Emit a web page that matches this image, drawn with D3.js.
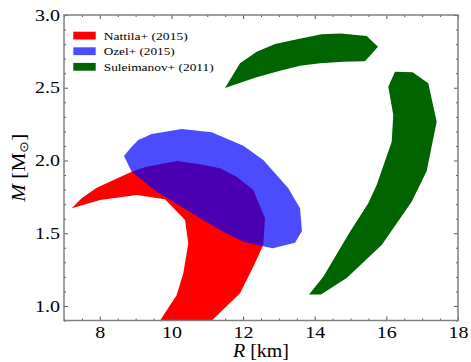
<!DOCTYPE html>
<html>
<head>
<meta charset="utf-8">
<script src="https://cdn.jsdelivr.net/npm/d3@7"></script>
<style>
  html, body { margin: 0; padding: 0; background: #fff; }
  svg { display: block; font-family: "Liberation Serif", serif; }
</style>
</head>
<body>
<svg id="chart" width="471" height="362"></svg>
<script>
// Mass-radius constraint regions, [R (km), M (Msun)] polygon vertices
const nattila = [
  [7.215, 1.671], [7.494, 1.740], [7.913, 1.813], [8.890, 1.923], [9.309, 1.957],
  [10.146, 1.996], [10.797, 1.974], [11.355, 1.946], [11.821, 1.888], [12.285, 1.797],
  [12.612, 1.603], [12.564, 1.419], [12.285, 1.270], [11.914, 1.087], [10.92, 0.85],
  [9.55, 0.85], [10.146, 1.075], [10.331, 1.224], [10.470, 1.431], [10.378, 1.591],
  [9.820, 1.733], [9.030, 1.763], [8.005, 1.728]
];
const ozel = [
  [8.675, 2.031], [8.890, 2.095], [9.074, 2.141], [9.448, 2.182], [10.286, 2.216],
  [11.124, 2.194], [12.006, 2.102], [12.564, 2.003], [13.262, 1.809], [13.589, 1.671],
  [13.645, 1.515], [13.449, 1.435], [12.827, 1.396], [12.528, 1.412], [12.006, 1.442],
  [11.355, 1.522], [10.378, 1.666], [9.588, 1.785], [8.890, 1.923]
];
const suleimanovUpper = [
  [11.495, 2.498], [11.914, 2.668], [12.380, 2.748], [12.891, 2.801], [13.541, 2.835],
  [14.195, 2.868], [14.733, 2.873], [15.451, 2.856], [15.766, 2.782], [15.403, 2.682],
  [14.798, 2.679], [14.147, 2.668], [13.589, 2.651], [13.003, 2.615], [12.332, 2.569]
];
const suleimanovLower = [
  [16.241, 2.610], [16.735, 2.606], [17.171, 2.530], [17.405, 2.267], [17.126, 1.928],
  [16.707, 1.717], [15.870, 1.419], [14.892, 1.192], [14.175, 1.079], [13.840, 1.079],
  [14.239, 1.201], [14.985, 1.510], [15.495, 1.706], [15.730, 1.831], [16.149, 2.129],
  [16.193, 2.313], [16.054, 2.507]
];

const seriesNames = ["Nattila+ (2015)", "Ozel+ (2015)", "Suleimanov+ (2011)"];
const seriesColors = ["#ff0000", "#0000ff", "#006400"];
const seriesAlpha = [1, 0.7, 1];

const xTicks = [8, 10, 12, 14, 16, 18];
const yTicks = [1.0, 1.5, 2.0, 2.5, 3.0];
const xDomain = [7, 18];
const yDomain = [0.9, 3.0];

const svg = d3.select("#chart");
const m = { left: 64, right: 13, top: 15, bottom: 41.5 };
const W = 471, H = 362;
const x = d3.scaleLinear().domain(xDomain).range([m.left, W - m.right]);
const y = d3.scaleLinear().domain(yDomain).range([H - m.bottom, m.top]);

// widen a text run to a target advance (serif face here is narrower than the design face)
function widen(sel, factor) {
  sel.each(function () {
    const w = this.getComputedTextLength();
    d3.select(this).attr("textLength", w * factor).attr("lengthAdjust", "spacingAndGlyphs");
  });
}
function fitTo(sel, width) {
  sel.attr("textLength", width).attr("lengthAdjust", "spacingAndGlyphs");
}

svg.append("defs").append("clipPath").attr("id", "plotclip")
  .append("rect")
  .attr("x", x(xDomain[0])).attr("y", y(yDomain[1]))
  .attr("width", x(xDomain[1]) - x(xDomain[0]))
  .attr("height", y(yDomain[0]) - y(yDomain[1]));

const line = d3.line().x(d => x(d[0])).y(d => y(d[1])).curve(d3.curveLinearClosed);
const plot = svg.append("g").attr("clip-path", "url(#plotclip)");

const regions = [
  { data: [nattila], i: 0 },
  { data: [ozel], i: 1 },
  { data: [suleimanovUpper, suleimanovLower], i: 2 }
];
// draw order: green, red, then translucent blue on top
[regions[2], regions[0], regions[1]].forEach(r => {
  r.data.forEach(poly => {
    plot.append("path")
      .attr("d", line(poly))
      .attr("fill", seriesColors[r.i])
      .attr("fill-opacity", seriesAlpha[r.i])
      .attr("stroke", "none");
  });
});

// axes: inward ticks on all four sides
const axisColor = "#808080";
const major = 4, minor = 2;
const xMinor = d3.range(7, 18.001, 0.5).filter(v => !xTicks.includes(v));
const yMinor = d3.range(0.9, 3.0001, 0.1).map(v => +v.toFixed(2)).filter(v => !yTicks.some(t => Math.abs(t - v) < 1e-6));

function styleAxis(g) {
  g.attr("font-family", null);
  g.select(".domain").remove();
  g.selectAll(".tick line").attr("stroke", "#555").attr("stroke-width", 1);
}
function styleLabels(g) {
  g.selectAll("text").attr("font-size", 16).attr("font-family", "Liberation Serif").attr("fill", "#000")
    .call(widen, 1.25);
}

svg.append("g").attr("transform", `translate(0,${y(yDomain[0])})`)
  .call(d3.axisBottom(x).tickValues(xTicks).tickSizeInner(-major).tickSizeOuter(0).tickPadding(6).tickFormat(d3.format("d")))
  .call(styleAxis).call(styleLabels);
svg.append("g").attr("transform", `translate(0,${y(yDomain[0])})`)
  .call(d3.axisBottom(x).tickValues(xMinor).tickSizeInner(-minor).tickSizeOuter(0).tickFormat(""))
  .call(styleAxis);
svg.append("g").attr("transform", `translate(0,${y(yDomain[1])})`)
  .call(d3.axisTop(x).tickValues(xTicks).tickSizeInner(-major).tickSizeOuter(0).tickFormat(""))
  .call(styleAxis);
svg.append("g").attr("transform", `translate(0,${y(yDomain[1])})`)
  .call(d3.axisTop(x).tickValues(xMinor).tickSizeInner(-minor).tickSizeOuter(0).tickFormat(""))
  .call(styleAxis);

svg.append("g").attr("transform", `translate(${x(xDomain[0])},0)`)
  .call(d3.axisLeft(y).tickValues(yTicks).tickSizeInner(-major).tickSizeOuter(0).tickPadding(4).tickFormat(d3.format(".1f")))
  .call(styleAxis).call(styleLabels);
svg.append("g").attr("transform", `translate(${x(xDomain[0])},0)`)
  .call(d3.axisLeft(y).tickValues(yMinor).tickSizeInner(-minor).tickSizeOuter(0).tickFormat(""))
  .call(styleAxis);
svg.append("g").attr("transform", `translate(${x(xDomain[1])},0)`)
  .call(d3.axisRight(y).tickValues(yTicks).tickSizeInner(-major).tickSizeOuter(0).tickFormat(""))
  .call(styleAxis);
svg.append("g").attr("transform", `translate(${x(xDomain[1])},0)`)
  .call(d3.axisRight(y).tickValues(yMinor).tickSizeInner(-minor).tickSizeOuter(0).tickFormat(""))
  .call(styleAxis);

// frame
svg.append("rect")
  .attr("x", x(xDomain[0])).attr("y", y(yDomain[1]))
  .attr("width", x(xDomain[1]) - x(xDomain[0]))
  .attr("height", y(yDomain[0]) - y(yDomain[1]))
  .attr("fill", "none").attr("stroke", axisColor).attr("stroke-width", 1.5);

// axis labels
const xl = svg.append("text")
  .attr("x", (x(xDomain[0]) + x(xDomain[1])) / 2).attr("y", 357)
  .attr("text-anchor", "middle").attr("font-size", 18).attr("fill", "#000");
xl.append("tspan").attr("font-style", "italic").text("R");
xl.append("tspan").text(" [km]");
fitTo(xl, 56);

const yl = svg.append("text")
  .attr("transform", `translate(25,${(y(yDomain[0]) + y(yDomain[1])) / 2}) rotate(-90)`)
  .attr("text-anchor", "middle").attr("font-size", 18).attr("fill", "#000");
yl.append("tspan").attr("font-style", "italic").text("M");
yl.append("tspan").text(" [M");
yl.append("tspan").attr("font-size", 12).attr("dy", 3).text("⊙");
yl.append("tspan").attr("dy", -3).text("]");
fitTo(yl, 68);

// legend
const legendWidths = [84, 71, 110];
const legend = svg.append("g").attr("transform", "translate(73.3,31.7)");
seriesNames.forEach((name, i) => {
  const row = legend.append("g").attr("transform", `translate(0,${i * 15.6})`);
  row.append("rect").attr("width", 22.4).attr("height", 7.8)
    .attr("fill", seriesColors[i]).attr("fill-opacity", seriesAlpha[i]);
  row.append("text").attr("x", 30.4).attr("y", 7.8)
    .attr("font-size", 11).attr("fill", "#000").text(name)
    .call(fitTo, legendWidths[i]);
});
</script>
</body>
</html>
